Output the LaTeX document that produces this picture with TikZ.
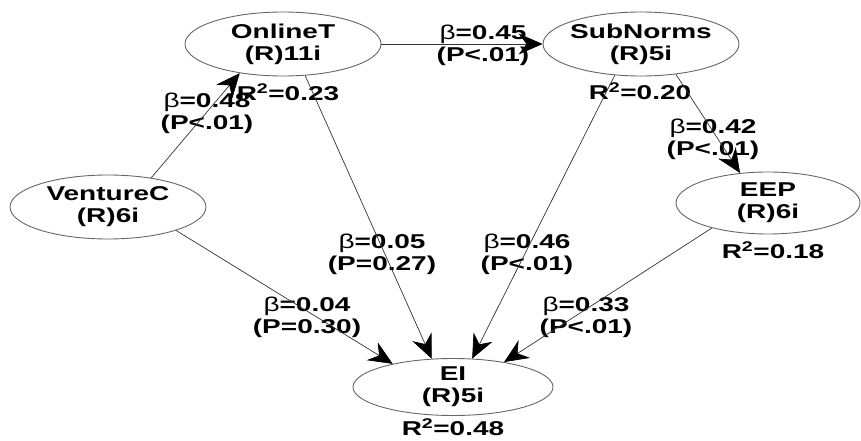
\documentclass[tikz,border=0pt]{standalone}
\usepackage{fontspec}
\setmainfont{Liberation Sans}[FakeStretch=1.4]
\usetikzlibrary{shapes.geometric,arrows.meta}
\begin{document}
\begin{tikzpicture}[x=1pt,y=-1pt,
  every node/.style={font=\fontsize{20}{22}\selectfont\bfseries},
  lv/.style={ellipse, draw=black!60, line width=0.9pt, minimum width=196pt, minimum height=64pt, inner sep=-8pt, align=center},
  lbl/.style={align=center, inner sep=0pt},
  conn/.style={draw=black!80, line width=0.7pt, -{Stealth[length=24pt,width=21pt,inset=8pt,black]}}]
\useasboundingbox (0,0) rectangle (861,441);
\node[lv] (ot) at (283,44) {OnlineT\\(R)11i};
\node[lv] (sn) at (641,44) {SubNorms\\(R)5i};
\node[lv] (vc) at (108,207) {VentureC\\(R)6i};
\node[lv, minimum width=184pt, minimum height=62pt] (eep) at (768,203) {EEP\\(R)6i};
\node[lv, minimum width=200pt, minimum height=57pt] (ei) at (453,387) {EI\\(R)5i};
\node[lbl] (r23) at (288,92) {R\textsuperscript{2}=0.23};
\node[lbl] (r20) at (640,91) {R\textsuperscript{2}=0.20};
\node[lbl] (r18) at (773,250) {R\textsuperscript{2}=0.18};
\node[lbl] (r48) at (453,427) {R\textsuperscript{2}=0.48};
\node[lbl] (b48) at (207,113) {{\mdseries β}=0.48\\(P<.01)};
\node[lbl] (b45) at (483,45) {{\mdseries β}=0.45\\(P<.01)};
\node[lbl] (b42) at (713,139) {{\mdseries β}=0.42\\(P<.01)};
\node[lbl] (b05) at (382,254) {{\mdseries β}=0.05\\(P=0.27)};
\node[lbl] (b46) at (527,254) {{\mdseries β}=0.46\\(P<.01)};
\node[lbl] (b04) at (307,317) {{\mdseries β}=0.04\\(P=0.30)};
\node[lbl] (b33) at (586,317) {{\mdseries β}=0.33\\(P<.01)};
\draw[conn] (vc.34) -- (ot.214);
\draw[conn] (ot.0) -- (sn.180);
\draw[conn] (ot.305) -- (ei.127);
\draw[conn] (sn.230) -- (ei.56);
\draw[conn] (sn.319) -- (eep.133);
\draw[conn] (vc.341) -- (ei.159);
\draw[conn] (eep.204) -- (ei.26);
\end{tikzpicture}
\end{document}
